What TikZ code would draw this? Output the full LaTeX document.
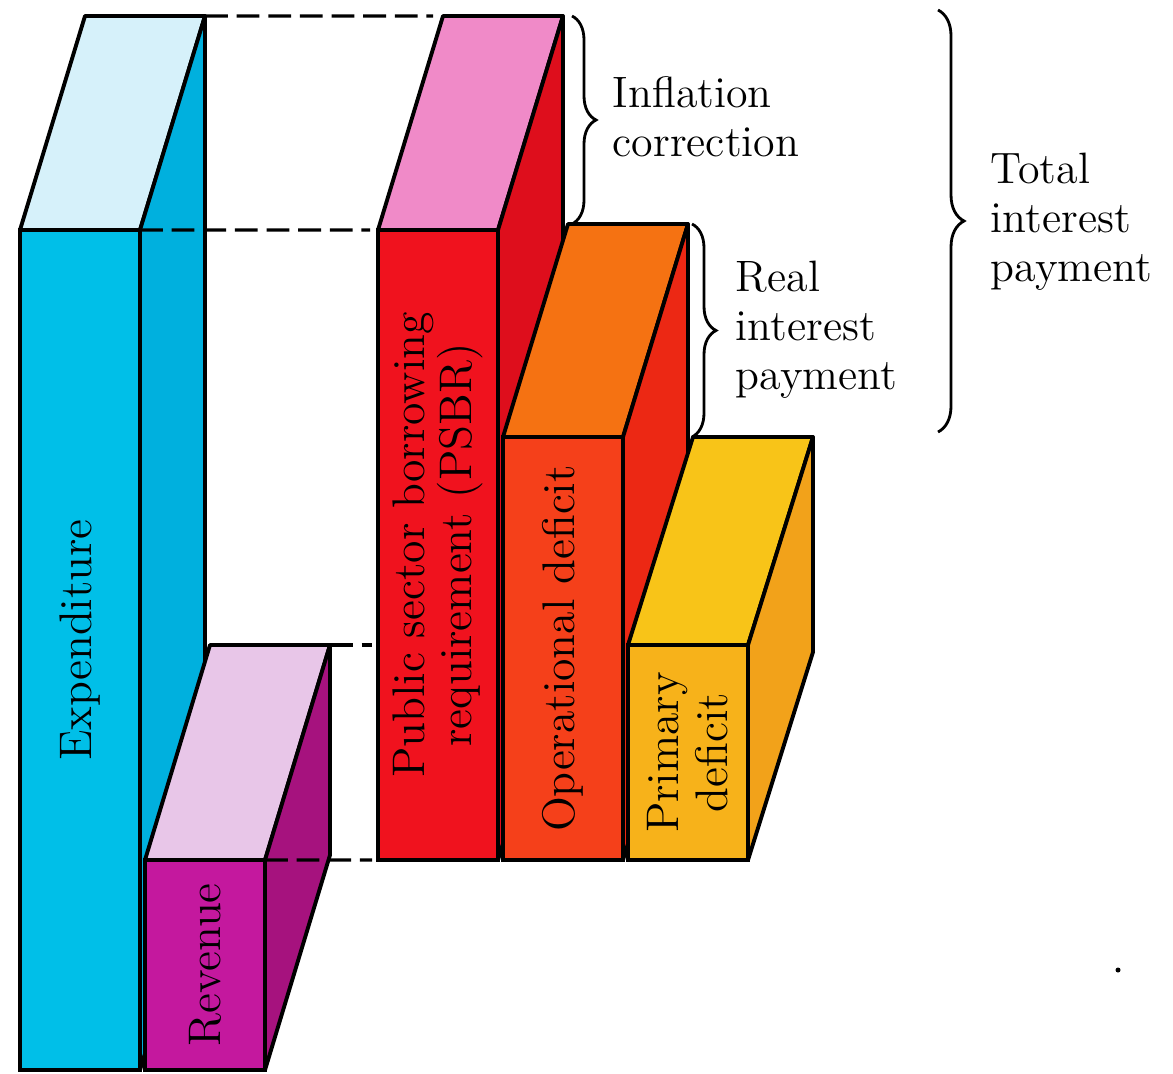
\documentclass[tikz,border=0pt]{standalone}
\usepackage{xcolor}
\usepackage{tikz}
\usetikzlibrary{decorations.pathreplacing}
\usetikzlibrary{calc}

\definecolor{expfront}{HTML}{00BFE8}
\definecolor{exptop}{HTML}{D6F1FA}
\definecolor{expside}{HTML}{00B0DE}
\definecolor{revfront}{HTML}{C4189E}
\definecolor{revtop}{HTML}{E8C6E8}
\definecolor{revside}{HTML}{A6127E}
\definecolor{psbrfront}{HTML}{F0121E}
\definecolor{psbrtop}{HTML}{F08AC8}
\definecolor{psbrside}{HTML}{DE0E1C}
\definecolor{opfront}{HTML}{F5401A}
\definecolor{optop}{HTML}{F57212}
\definecolor{opside}{HTML}{EC2814}
\definecolor{primfront}{HTML}{F7B21A}
\definecolor{primtop}{HTML}{F8C418}
\definecolor{primside}{HTML}{F2A21A}

\begin{document}
\begin{tikzpicture}[
        face/.style={draw, line width=1.1pt, outer sep=0pt, inner sep=0pt,
            anchor=south west, minimum width=1.2cm},
        facepath/.style={draw, line width=1.1pt, line join=round},
        barlabel/.style={rotate=90, align=center, inner sep=0pt,
            font=\fontsize{13}{12}\selectfont},
        sidelabel/.style={anchor=west, align=left, inner sep=0pt,
            font=\fontsize{12.5}{14}\selectfont},
        guide/.style={line width=0.9pt, dash pattern=on 6.5pt off 2.5pt},
        curly/.style={decorate, decoration={brace, amplitude=0.24cm}, line width=0.8pt}
    ]
        \useasboundingbox (0, 0) rectangle (11.73, 10.73);

        % expenditure
        \node[face, fill=expfront, minimum height=8.4cm] (exp) at (0.20, 0.03) {};
        \filldraw[facepath, fill=exptop] (exp.north west) -- ++(0.65, 2.14) coordinate (exp-bl)
            -- ++(1.2, 0) coordinate (exp-br) -- (exp.north east) -- cycle;
        \filldraw[facepath, fill=expside] (exp.north east) -- (exp-br) -- ++(0, -8.4) -- (exp.south east) -- cycle;
        \node[barlabel] (exp-lbl) at ([yshift=0.1cm]exp.center) {Expenditure};

        % revenue
        \node[face, fill=revfront, minimum height=2.1cm] (rev) at (1.45, 0.03) {};
        \filldraw[facepath, fill=revtop] (rev.north west) -- ++(0.65, 2.15) coordinate (rev-bl)
            -- ++(1.2, 0) coordinate (rev-br) -- (rev.north east) -- cycle;
        \filldraw[facepath, fill=revside] (rev.north east) -- (rev-br) -- ++(0, -2.1) -- (rev.south east) -- cycle;
        \node[barlabel] (rev-lbl) at (rev.center) {Revenue};

        % PSBR
        \node[face, fill=psbrfront, minimum height=6.3cm] (psbr) at (3.78, 2.13) {};
        \filldraw[facepath, fill=psbrtop] (psbr.north west) -- ++(0.65, 2.14) coordinate (psbr-bl)
            -- ++(1.2, 0) coordinate (psbr-br) -- (psbr.north east) -- cycle;
        \filldraw[facepath, fill=psbrside] (psbr.north east) -- (psbr-br) -- ++(0, -6.3) -- (psbr.south east) -- cycle;
        \node[barlabel, font=\fontsize{13}{11.5}\selectfont] (psbr-lbl) at (psbr.center)
            {Public sector borrowing\\requirement (PSBR)};

        % operational deficit
        \node[face, fill=opfront, minimum height=4.23cm] (op) at (5.03, 2.13) {};
        \filldraw[facepath, fill=optop] (op.north west) -- ++(0.65, 2.13) coordinate (op-bl)
            -- ++(1.2, 0) coordinate (op-br) -- (op.north east) -- cycle;
        \filldraw[facepath, fill=opside] (op.north east) -- (op-br) -- ++(0, -4.23) -- (op.south east) -- cycle;
        \node[barlabel] (op-lbl) at (op.center) {Operational deficit};

        % primary deficit
        \node[face, fill=primfront, minimum height=2.15cm] (prim) at (6.28, 2.13) {};
        \filldraw[facepath, fill=primtop] (prim.north west) -- ++(0.65, 2.08) coordinate (prim-bl)
            -- ++(1.2, 0) coordinate (prim-br) -- (prim.north east) -- cycle;
        \filldraw[facepath, fill=primside] (prim.north east) -- (prim-br) -- ++(0, -2.15) -- (prim.south east) -- cycle;
        \node[barlabel, font=\fontsize{13}{14}\selectfont] (prim-lbl) at (prim.center) {Primary\\deficit};

        % dashed guides
        \draw[guide, shorten >=0.1cm] (exp-br) -- (psbr-bl);
        \draw[guide, shorten >=0.08cm] (exp.north east) -- (psbr.north west);
        \draw[guide, shorten >=0.06cm] (rev-br) -- (rev-br -| psbr.west);
        \draw[guide, shorten >=0.06cm] (rev.north east) -- (psbr.south west);

        % braces
        \draw[curly] (5.72, 0 |- psbr-br) -- (5.72, 0 |- op-br);
        \draw[curly] (6.92, 0 |- op-br) -- (6.92, 0 |- prim-br);
        \draw[curly, decoration={amplitude=0.26cm}] (9.38, 10.63) -- (9.38, 6.41);

        \node[sidelabel] (infl) at (6.12, 9.56) {Inflation\\correction};
        \node[sidelabel] (real) at (7.35, 7.43) {Real\\interest\\payment};
        \node[sidelabel] (total) at (9.90, 8.51) {Total\\interest\\payment};

        \fill (11.18, 1.03) circle (0.025);
    \end{tikzpicture}
\end{document}
